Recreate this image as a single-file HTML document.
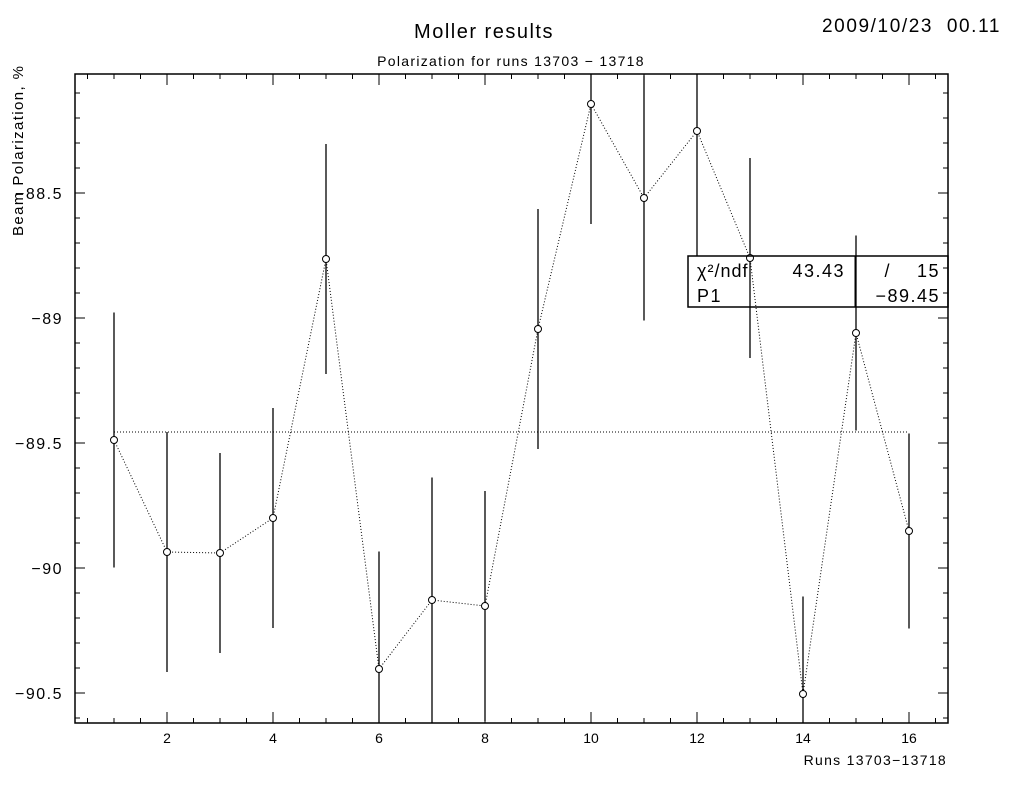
<!DOCTYPE html>
<html><head><meta charset="utf-8"><style>
body{margin:0;background:#fff}
svg text{font-family:"Liberation Sans",sans-serif;fill:#000;white-space:pre}
</style></head><body>
<svg id="c" width="1024" height="800" xmlns="http://www.w3.org/2000/svg">
<text x="484" y="38" font-size="20" letter-spacing="1.5" text-anchor="middle">Moller results</text>
<text x="1001" y="32" font-size="19" letter-spacing="1.6" text-anchor="end">2009/10/23  00.11</text>
<text x="511" y="66" font-size="14" letter-spacing="1.3" text-anchor="middle">Polarization for runs 13703 − 13718</text>
<text x="0" y="0" font-size="15" letter-spacing="1.4" transform="translate(23,236) rotate(-90)">Beam Polarization, %</text>
<text x="947" y="765" font-size="14" letter-spacing="1.3" text-anchor="end">Runs 13703−13718</text>
<g id="axes"></g>
<g id="marks"></g>
<g>
<rect x="688" y="256" width="260" height="51" fill="#fff" fill-opacity="0" stroke="#000" stroke-width="1.5"/>
<line x1="855" y1="256" x2="855" y2="307" stroke="#000"/>
<text x="697" y="277" font-size="18" letter-spacing="1">χ²/ndf</text>
<text x="845" y="277" font-size="18" letter-spacing="1.5" text-anchor="end">43.43</text>
<text x="940" y="277" font-size="18" letter-spacing="1.5" text-anchor="end">/    15</text>
<text x="697" y="302" font-size="18" letter-spacing="1.5">P1</text>
<text x="940" y="302" font-size="18" letter-spacing="1.5" text-anchor="end">−89.45</text>
</g>
</svg>
<script>
const runs=[1,2,3,4,5,6,7,8,9,10,11,12,13,14,15,16];
const pol=[-89.488,-89.936,-89.94,-89.8,-88.764,-90.404,-90.128,-90.152,-89.044,-88.144,-88.52,-88.252,-88.76,-90.504,-89.06,-89.852];
const err=[0.51,0.48,0.4,0.44,0.46,0.47,0.49,0.46,0.48,0.48,0.49,0.5,0.4,0.39,0.39,0.39];
const fitValue=-89.456;
const yTicks=[-88.5,-89,-89.5,-90,-90.5];
const yTickLabels=["-88.5","-89","-89.5","-90","-90.5"];
const xTicks=[2,4,6,8,10,12,14,16];
const L=75,R=948,T=74,B=723;
const x=v=>114+(v-1)*53;
const y=v=>193+(-88.5-v)*250;
const NS="http://www.w3.org/2000/svg";
function mk(p,t,a){const e=document.createElementNS(NS,t);for(const k in a)e.setAttribute(k,a[k]);p.appendChild(e);return e;}
const ax=document.getElementById('axes');
const fr=mk(ax,'rect',{x:L,y:T,width:R-L,height:B-T,fill:'none',stroke:'#000','stroke-width':1.5});


for(let k=-880;k>=-906;k--){const v=k/10;const yy=y(v);if(yy<T+2||yy>B-1)continue;const maj=k%5===0;const len=maj?10:5;
mk(ax,'line',{x1:L,y1:yy,x2:L+len,y2:yy,stroke:'#000'});mk(ax,'line',{x1:R,y1:yy,x2:R-len,y2:yy,stroke:'#000'});}
for(let k=1;k<=33;k++){const v=k/2;const xx=x(v);if(xx<L+2||xx>R-1)continue;const maj=k%4===0;const len=maj?11:5;
mk(ax,'line',{x1:xx,y1:B,x2:xx,y2:B-len,stroke:'#000'});mk(ax,'line',{x1:xx,y1:T,x2:xx,y2:T+len,stroke:'#000'});}
yTicks.forEach((v,i)=>{const t=mk(ax,'text',{x:L-12,y:y(v)+6,'font-size':16,'letter-spacing':1.5,'text-anchor':'end'});t.textContent=yTickLabels[i].replace('-','−');

});
xTicks.forEach(v=>{const t=mk(ax,'text',{x:x(v),y:B+20,'font-size':14,'text-anchor':'middle'});t.textContent=v;

});
const m=document.getElementById('marks');
const fl=mk(m,'line',{x1:x(1),y1:y(fitValue),x2:x(16),y2:y(fitValue),stroke:'#000','stroke-dasharray':'1,2'});


const pl=mk(m,'polyline',{points:runs.map((r,i)=>x(r)+','+y(pol[i])).join(' '),fill:'none',stroke:'#000','stroke-dasharray':'1,2'});


runs.forEach((r,i)=>{const y1=Math.max(T,y(pol[i]+err[i])),y2=Math.min(B,y(pol[i]-err[i]));
const l=mk(m,'line',{x1:x(r),y1:y1,x2:x(r),y2:y2,stroke:'#000','stroke-width':1.3});


const c=mk(m,'circle',{cx:x(r),cy:y(pol[i]),r:3.5,fill:'#fff',stroke:'#000'});

});
</script>
</body></html>
